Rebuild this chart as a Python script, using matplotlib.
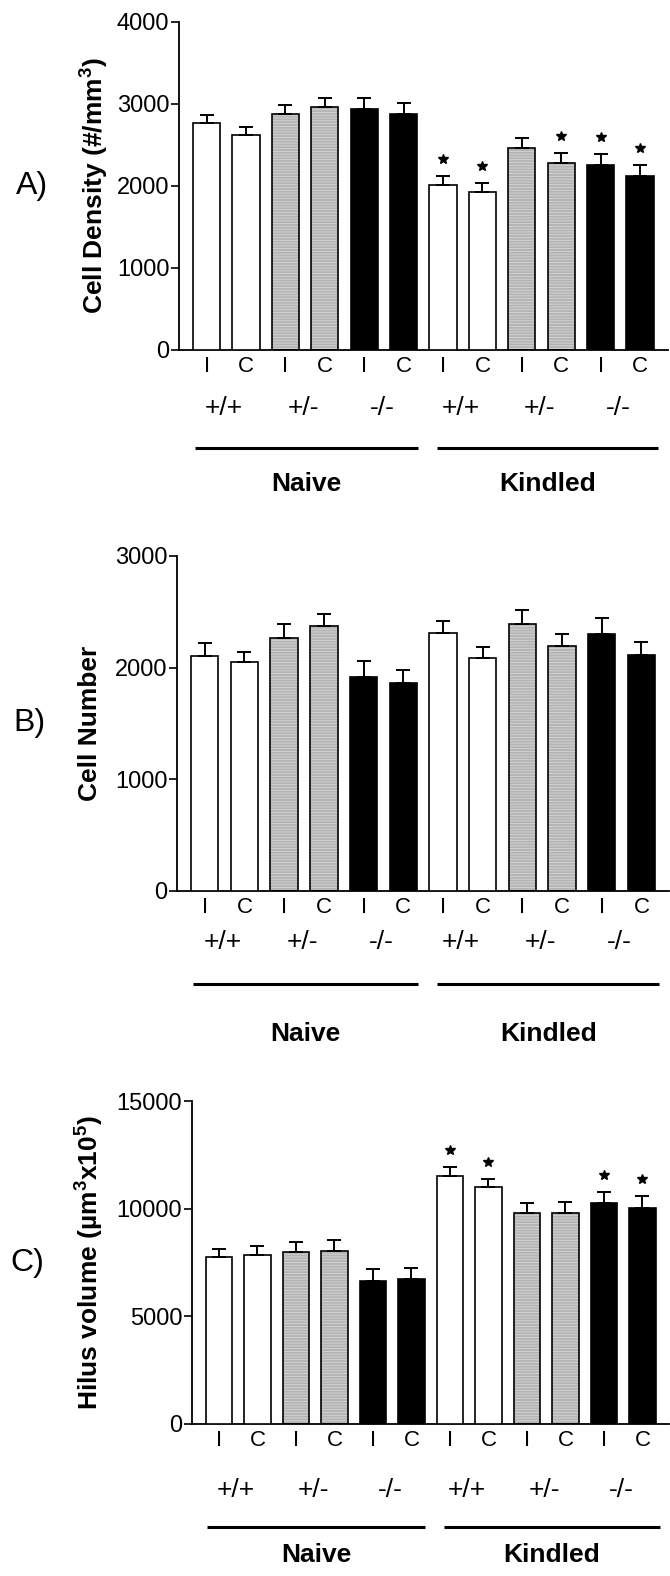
import numpy as np
import matplotlib
matplotlib.use("Agg")
import matplotlib.pyplot as plt
import matplotlib.transforms as mtransforms

plt.rcParams['font.family'] = ['Liberation Sans', 'DejaVu Sans']
plt.rcParams['mathtext.fontset'] = 'custom'
plt.rcParams['mathtext.rm'] = 'Liberation Sans:bold'
plt.rcParams['mathtext.it'] = 'Liberation Sans:bold'
plt.rcParams['mathtext.bf'] = 'Liberation Sans:bold'
plt.rcParams['hatch.linewidth'] = 0.6

# bar order: naive +/+ I,C  +/- I,C  -/- I,C  then kindled same
cond = ['I', 'C'] * 6
genotypes = ['+/+', '+/-', '-/-', '+/+', '+/-', '-/-']
groups = ['Naive', 'Kindled']

density = [2761, 2619, 2870, 2964, 2939, 2874, 2015, 1930, 2466, 2280, 2254, 2116]
density_err = [100, 102, 110, 109, 126, 130, 100, 107, 117, 115, 128, 135]
density_sig = [6, 7, 9, 10, 11]

number = [2108, 2051, 2265, 2377, 1916, 1864, 2313, 2090, 2392, 2193, 2304, 2114]
number_err = [112, 85, 124, 108, 141, 118, 103, 91, 126, 105, 142, 115]
number_sig = []

volume = [7740, 7850, 7990, 8050, 6640, 6730, 11520, 11000, 9820, 9820, 10240, 10010]
volume_err = [390, 435, 480, 500, 545, 530, 435, 390, 450, 485, 545, 590]
volume_sig = [6, 7, 10, 11]

W, H = 670, 1576
fig = plt.figure(figsize=(W / 100, H / 100), dpi=100)

GRAY = '#b4b4b4'
fills = ['white', 'white', GRAY, GRAY, 'black', 'black'] * 2


def draw_panel(left, top, bottom, spacing, vals, errs, sig, ymax, step,
               ylabel, letter, letter_x, ylabel_x, offs):
    right = left + 12.4 * spacing
    ax = fig.add_axes([left / W, 1 - bottom / H, (right - left) / W,
                       (bottom - top) / H])
    x = np.arange(12)
    for i in range(12):
        if fills[i] == GRAY:
            ax.bar(x[i], vals[i], 0.69, color=GRAY, hatch='------',
                   edgecolor='#d6d6d6', linewidth=0, zorder=2)
            ax.bar(x[i], vals[i], 0.69, fill=False, edgecolor='black',
                   linewidth=1.2, zorder=3)
        else:
            ax.bar(x[i], vals[i], 0.69, color=fills[i], edgecolor='black',
                   linewidth=1.2, zorder=3)
    ax.errorbar(x, vals, yerr=[np.zeros(12), errs], fmt='none', ecolor='black',
                elinewidth=1.4, capsize=5, capthick=1.4, zorder=4)
    star_tr = ax.transData + mtransforms.ScaledTranslation(0, 0.17, fig.dpi_scale_trans)
    for i in sig:
        ax.plot(x[i], vals[i] + errs[i], marker='*', color='black',
                markersize=7, transform=star_tr, clip_on=False)

    ax.set_xlim(-0.7, 11.7)
    ax.set_ylim(0, ymax)
    ax.set_yticks(np.arange(0, ymax + 1, step))
    ax.spines['top'].set_visible(False)
    ax.spines['right'].set_visible(False)
    ax.spines['left'].set_linewidth(1.3)
    ax.spines['bottom'].set_linewidth(1.3)
    ax.tick_params(axis='y', length=6, width=1.2, labelsize=17, pad=1)
    ax.set_xticks(x)
    ax.set_xticklabels(cond, fontsize=16)
    ax.tick_params(axis='x', length=0, pad=4)

    hpx = bottom - top
    tr = mtransforms.blended_transform_factory(ax.transData, ax.transAxes)
    for k in range(6):
        ax.text(2 * k + 0.45, -offs[0] / hpx, genotypes[k], transform=tr,
                ha='center', va='center', fontsize=19)
    for (a, b) in [(-0.3, 5.36), (5.85, 11.45)]:
        ax.plot([a, b], [-offs[1] / hpx] * 2, color='black', lw=2.2,
                transform=tr, clip_on=False, solid_capstyle='butt')
    for g, xc in zip(groups, [2.53, 8.65]):
        ax.text(xc, -offs[2] / hpx, g, transform=tr, ha='center', va='center',
                fontsize=19, fontweight='bold')

    mid = (top + bottom) / 2
    fig.text(ylabel_x / W, 1 - mid / H, ylabel, rotation=90, ha='center',
             va='center', fontsize=19, fontweight='bold')
    fig.text(letter_x / W, 1 - mid / H, letter, ha='center', va='center',
             fontsize=23)
    return ax


draw_panel(179, 21.7, 350, 39.4, density, density_err, density_sig, 4000, 1000,
           'Cell Density (#/mm$^{3}$)', 'A)', 32, 95, (58, 98, 134))
draw_panel(177, 556, 891, 39.7, number, number_err, number_sig, 3000, 1000,
           'Cell Number', 'B)', 29, 90, (51, 93, 143))
draw_panel(192, 1101, 1424, 38.5, volume, volume_err, volume_sig, 15000, 5000,
           'Hilus volume (µm$^{3}$x10$^{5}$)', 'C)', 27, 90, (66, 103, 131))

fig.savefig('out.png', dpi=100)
